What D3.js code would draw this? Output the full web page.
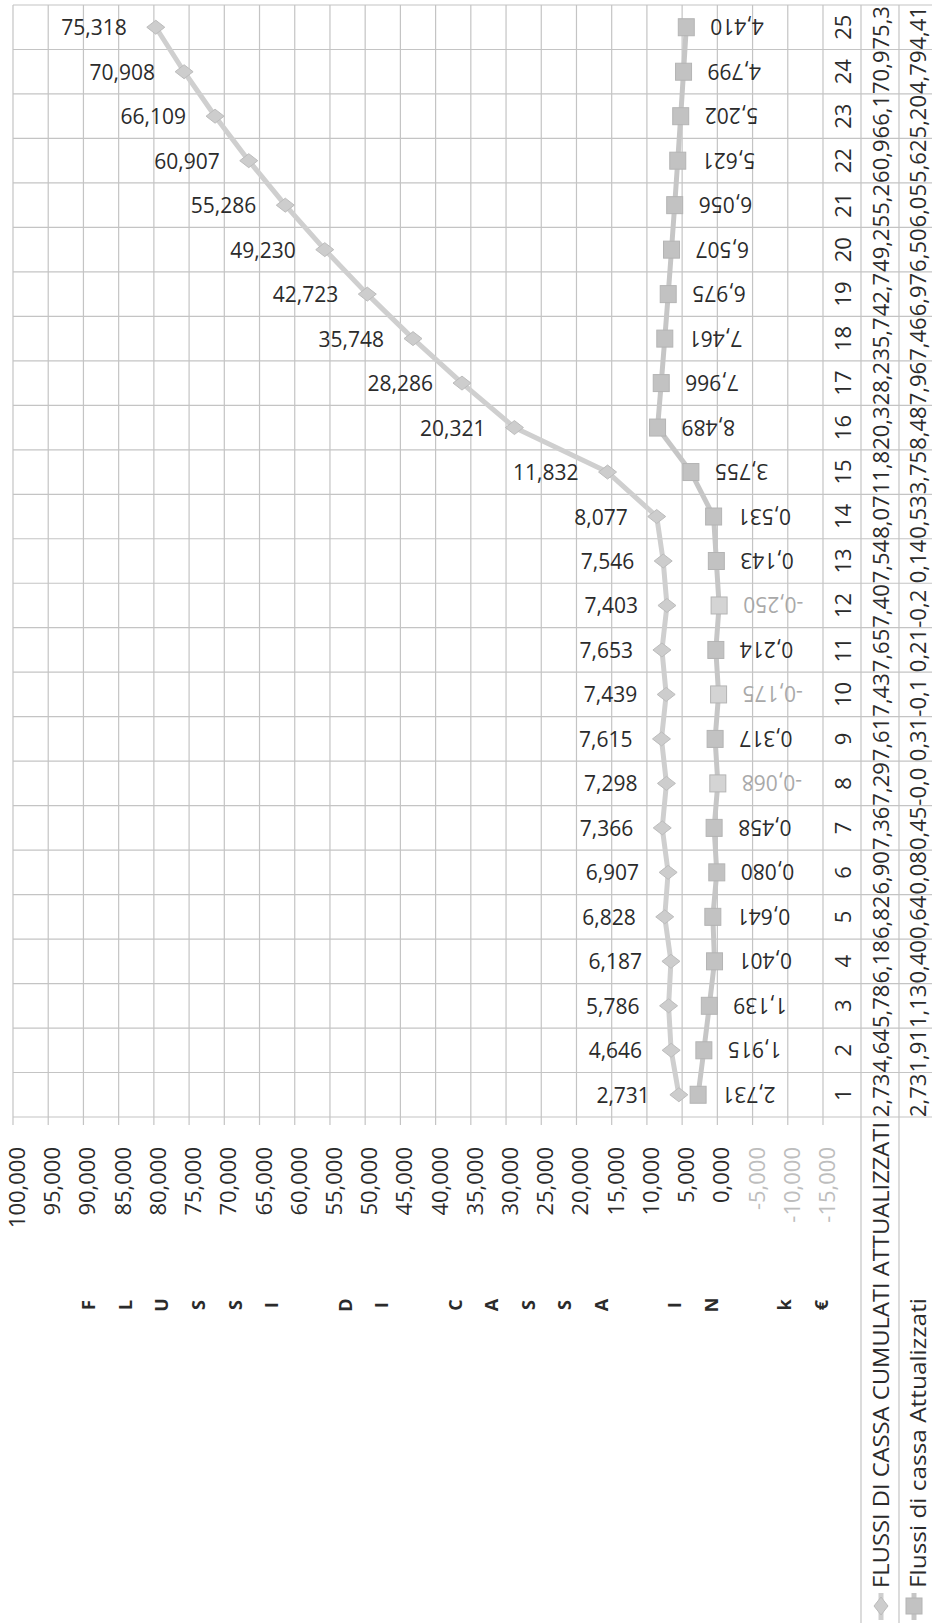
<!DOCTYPE html>
<html>
<head>
<meta charset="utf-8">
<script src="https://cdn.jsdelivr.net/npm/d3@7"></script>
<style>
  html, body { margin: 0; padding: 0; background: #fff; }
  svg { display: block; }
  text { font-family: "Open Sans", "Noto Sans", sans-serif; fill: #2b2b2b; }
</style>
</head>
<body>
<svg id="chart" width="932" height="1623"></svg>
<script>
// ---- DATA ----
const anni = [1,2,3,4,5,6,7,8,9,10,11,12,13,14,15,16,17,18,19,20,21,22,23,24,25];
const flussiCumulati = [2.731, 4.646, 5.786, 6.187, 6.828, 6.907, 7.366, 7.298, 7.615, 7.439,
  7.653, 7.403, 7.546, 8.077, 11.832, 20.321, 28.286, 35.748, 42.723, 49.230,
  55.286, 60.907, 66.109, 70.908, 75.318];
const flussiAttualizzati = [2.731, 1.915, 1.139, 0.401, 0.641, 0.080, 0.458, -0.068, 0.317, -0.175,
  0.214, -0.250, 0.143, 0.531, 3.755, 8.489, 7.966, 7.461, 6.975, 6.507,
  6.056, 5.621, 5.202, 4.799, 4.410];
const valoriAsse = [100, 95, 90, 85, 80, 75, 70, 65, 60, 55, 50, 45, 40, 35, 30, 25, 20, 15, 10, 5, 0, -5, -10, -15];
const nomiSerie = ["FLUSSI DI CASSA CUMULATI ATTUALIZZATI", "Flussi di cassa Attualizzati"];
const titoloAsse = "FLUSSI DI CASSA IN k€";

// ---- SETUP ----
const svg = d3.select("#chart");
const locale = d3.formatLocale({decimal: ",", thousands: ".", grouping: [3], currency: ["", "€"], minus: "-"});
const fmt = locale.format(".3f");

const plot = {left: 13, right: 823, top: 5, bottom: 1117};
const tableCols = [861, 899, 932];

const x = d3.scaleLinear().domain([100, -15]).range([plot.left, plot.right]);
const y = d3.scaleBand().domain(anni).range([plot.bottom, plot.top]).padding(0);
const bw = y.bandwidth();
const yc = d => y(d) + bw / 2;

// stacked line chart (Excel "stacked line")
const rows = anni.map((a, i) => ({anno: a, att: flussiAttualizzati[i], cum: flussiCumulati[i]}));
const stack = d3.stack().keys(["att", "cum"]).offset(d3.stackOffsetNone)(rows);

const grid = svg.append("g");
grid.selectAll("line.v").data(valoriAsse).join("line")
  .attr("x1", d => x(d)).attr("x2", d => x(d))
  .attr("y1", plot.top).attr("y2", plot.bottom + 8)
  .attr("stroke", "#c4c4c4").attr("stroke-width", 1.2);
const bounds = anni.map(a => y(a)).concat([plot.bottom]);
grid.selectAll("line.h").data(bounds).join("line")
  .attr("x1", plot.left).attr("x2", 932)
  .attr("y1", d => d).attr("y2", d => d)
  .attr("stroke", "#c4c4c4").attr("stroke-width", 1.2);
grid.selectAll("line.t").data(tableCols.slice(0, 2)).join("line")
  .attr("x1", d => d).attr("x2", d => d)
  .attr("y1", plot.top).attr("y2", 1623)
  .attr("stroke", "#c4c4c4").attr("stroke-width", 1.2);

// value axis tick labels
svg.append("g").selectAll("text").data(valoriAsse).join("text")
  .attr("transform", d => `translate(${x(d) + 3},1147) rotate(-90)`)
  .attr("text-anchor", "end").attr("dominant-baseline", "central")
  .style("font-size", "22px")
  .style("fill", d => d < 0 ? "#bdbdbd" : "#2b2b2b")
  .text(d => fmt(d));

// axis title (stacked letters)
const lettere = Array.from(titoloAsse);
svg.append("g").selectAll("text").data(lettere).join("text")
  .attr("transform", (d, i) => `translate(${88 + i * 36.65},1305) rotate(-90)`)
  .attr("text-anchor", "middle").attr("dominant-baseline", "central")
  .style("font-size", "18px").style("font-weight", "bold")
  .text(d => d === " " ? "" : d);

// category labels (table header)
svg.append("g").selectAll("text").data(anni).join("text")
  .attr("transform", d => `translate(842,${yc(d)}) rotate(-90)`)
  .attr("text-anchor", "middle").attr("dominant-baseline", "central")
  .style("font-size", "22px")
  .text(d => d);

// data table values
const tableSeries = [flussiCumulati, flussiAttualizzati];
tableSeries.forEach((serie, si) => {
  const cx = (tableCols[si] + tableCols[si + 1]) / 2 + (si === 1 ? 1 : 0);
  svg.append("g").selectAll("text").data(serie).join("text")
    .attr("transform", (d, i) => `translate(${cx},${y(anni[i]) + bw}) rotate(-90)`)
    .attr("text-anchor", "start").attr("dominant-baseline", "central")
    .style("font-size", "22px")
    .text(d => fmt(d).slice(0, 4));
});

// lines
const lineGen = d3.line()
  .x(d => x(d[1]))
  .y(d => yc(d.data.anno));
const serieStyle = [
  {fill: "#c2c2c2", line: "#c6c6c6"},   // att (squares)
  {fill: "#cdcdcd", line: "#cfcfcf"}    // cum (diamonds)
];
stack.forEach((s, si) => {
  svg.append("path").datum(s)
    .attr("d", lineGen)
    .attr("fill", "none")
    .attr("stroke", serieStyle[si].line)
    .attr("stroke-width", 5)
    .attr("stroke-linejoin", "round");
});

// markers
const diamond = "M-9,0 L0,-7 L9,0 L0,7 Z";
svg.append("g").selectAll("path").data(stack[1]).join("path")
  .attr("transform", d => `translate(${x(d[1])},${yc(d.data.anno)})`)
  .attr("d", diamond)
  .attr("fill", serieStyle[1].fill).attr("stroke", "#bcbcbc").attr("stroke-width", 1);
svg.append("g").selectAll("rect").data(stack[0]).join("rect")
  .attr("x", d => x(d[1]) - 8).attr("y", d => yc(d.data.anno) - 8.5)
  .attr("width", 16).attr("height", 17)
  .attr("fill", d => d.data.att < 0 ? "#d4d4d4" : serieStyle[0].fill)
  .attr("stroke", "#b4b4b4").attr("stroke-width", 1);

// data labels – cumulative (left of diamond, horizontal)
svg.append("g").selectAll("text").data(stack[1]).join("text")
  .attr("x", d => x(d[1]) - 29).attr("y", d => yc(d.data.anno))
  .attr("text-anchor", "end").attr("dominant-baseline", "central")
  .style("font-size", "21px")
  .text(d => fmt(d.data.cum));

// data labels – annual flows (right of square, upside down)
svg.append("g").selectAll("text").data(stack[0]).join("text")
  .attr("transform", d => `translate(${x(d[1]) + 24},${yc(d.data.anno)}) rotate(180)`)
  .attr("text-anchor", "end").attr("dominant-baseline", "central")
  .style("font-size", "21px")
  .style("fill", d => d.data.att < 0 ? "#a9a9a9" : "#2b2b2b")
  .text(d => fmt(d.data.att));

// legend (data table row headers)
const legendX = [880, 917];
const legendLen = [466, 290];
nomiSerie.forEach((nome, i) => {
  svg.append("text")
    .attr("transform", `translate(${legendX[i]},1588) rotate(-90)`)
    .attr("text-anchor", "start").attr("dominant-baseline", "central")
    .attr("textLength", legendLen[i]).attr("lengthAdjust", "spacingAndGlyphs")
    .style("font-size", "22px")
    .text(nome);
  const kx = legendX[i] + (i === 0 ? 1 : -3);
  svg.append("line")
    .attr("x1", kx).attr("x2", kx).attr("y1", 1593).attr("y2", 1620)
    .attr("stroke", i === 0 ? serieStyle[1].line : serieStyle[0].line).attr("stroke-width", 5);
  if (i === 0) {
    svg.append("path").attr("transform", `translate(${kx},1606) rotate(90)`)
      .attr("d", diamond).attr("fill", serieStyle[1].fill).attr("stroke", "#bcbcbc");
  } else {
    svg.append("rect").attr("x", kx - 8).attr("y", 1598).attr("width", 16).attr("height", 16)
      .attr("fill", serieStyle[0].fill).attr("stroke", "#b4b4b4");
  }
});
</script>
</body>
</html>
